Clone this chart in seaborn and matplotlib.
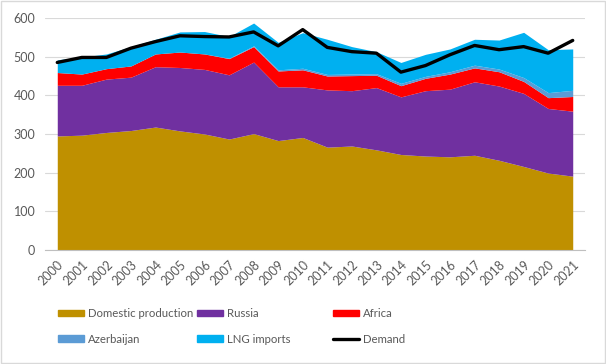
import numpy as np
import matplotlib
matplotlib.use("Agg")
import matplotlib.pyplot as plt
import matplotlib.patches as mpatches
from matplotlib.lines import Line2D
import seaborn as sns
import pandas as pd

years = [str(y) for y in range(2000, 2022)]
domestic = [295, 297, 304, 309, 318, 308, 300, 287, 301, 283, 291, 266, 269, 259, 247, 243, 241, 245, 232, 216, 199, 191]
russia = [131, 129, 138, 138, 156, 164, 167, 166, 185, 139, 131, 148, 143, 161, 149, 169, 175, 190, 192, 189, 167, 168]
africa = [33, 29, 27, 29, 33, 40, 40, 42, 40, 41, 44, 36, 39, 32, 29, 32, 39, 36, 37, 31, 28, 38]
azerbaijan = [0, 0, 0, 0, 0, 0, 0, 1, 2, 3, 4, 4, 4, 4, 6, 5, 6, 7, 7, 10, 13, 16]
lng = [33, 44, 38, 50, 38, 52, 58, 56, 59, 71, 92, 91, 71, 57, 54, 57, 59, 67, 75, 117, 111, 107]
demand = [485, 498, 498, 522, 539, 554, 552, 551, 564, 528, 570, 524, 513, 509, 460, 477, 505, 529, 518, 526, 509, 542]

colors = ["#BF9000", "#7030A0", "#FF0000", "#5B9BD5", "#00B0F0"]
names = ["Domestic production", "Russia", "Africa", "Azerbaijan", "LNG imports"]

sns.set_style("white")
plt.rcParams["font.family"] = ["Lato", "DejaVu Sans"]

fig = plt.figure(figsize=(6.06, 3.64), dpi=100)
ax = fig.add_axes([45 / 606, 114 / 364, 540 / 606, 232 / 364])

x = np.arange(len(years))
ax.stackplot(x, domestic, russia, africa, azerbaijan, lng, colors=colors, linewidth=0)

df = pd.DataFrame({"x": x, "demand": demand})
sns.lineplot(data=df, x="x", y="demand", ax=ax, color="black", linewidth=2.4)

ax.set_xlim(-0.5, len(years) - 0.5)
ax.set_ylim(0, 600)
ax.set_yticks(range(0, 601, 100))
ax.yaxis.grid(True, color="#D9D9D9", linewidth=0.8)
ax.set_axisbelow(True)
ax.set_xlabel("")
ax.set_ylabel("")

ax.set_xticks(x)
ax.set_xticklabels(years, rotation=45, ha="right", rotation_mode="anchor")
ax.set_xticks(np.arange(-0.5, len(years)), minor=True)
ax.tick_params(axis="x", which="major", length=0, labelsize=9, labelcolor="#595959", pad=6)
ax.tick_params(axis="x", which="minor", length=4, color="#BFBFBF", width=0.8, direction="out")
ax.tick_params(axis="y", length=0, labelsize=9, labelcolor="#595959", pad=7)

for s in ["top", "right", "left"]:
    ax.spines[s].set_visible(False)
ax.spines["bottom"].set_color("#BFBFBF")
ax.spines["bottom"].set_linewidth(0.8)

handles = [mpatches.Patch(color=c, label=n) for c, n in zip(colors, names)]
handles.append(Line2D([0], [0], color="black", linewidth=2.4, label="Demand"))
cols = [[handles[0], handles[3]], [handles[1], handles[4]], [handles[2], handles[5]]]
xpos = [58, 197, 333]
for hs, xp in zip(cols, xpos):
    fig.legend(handles=hs, loc="upper left", bbox_to_anchor=(xp / 606, 1 - 308 / 364),
               frameon=False, fontsize=8.2, handlelength=2.3, handleheight=0.55,
               handletextpad=0.3, labelspacing=1.3, labelcolor="#595959",
               borderaxespad=0, borderpad=0)

fig.patches.append(mpatches.Rectangle((0.002, 0.003), 0.996, 0.994, transform=fig.transFigure,
                                      fill=False, edgecolor="#D9D9D9", linewidth=1))

fig.savefig("out.png", dpi=100)
